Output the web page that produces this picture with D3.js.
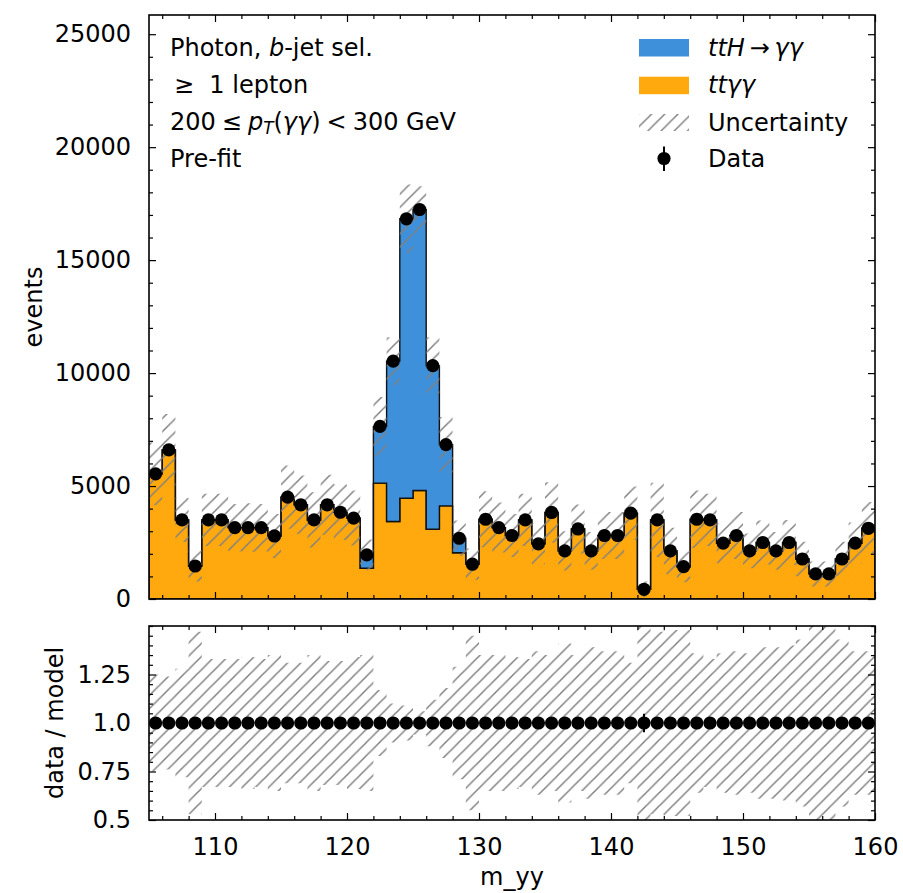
<!DOCTYPE html>
<html><head><meta charset="utf-8">
<script src="https://cdn.jsdelivr.net/npm/d3@7"></script>
<style>
body{margin:0;background:#fff}
svg{display:block}
text{font-family:"DejaVu Sans";fill:#000}
</style>
</head><body>
<svg id="c" width="903" height="893"></svg>
<script>
// ---- data (bins of 1 GeV from 105 to 160) ----
const binEdges = d3.range(105, 161, 1);
const dataCounts = [5540,6600,3500,1460,3500,3500,3160,3160,3160,2790,
  4510,4170,3500,4170,3840,3580,1950,7640,10530,16830,
  17240,10330,6830,2690,1540,3530,3160,2810,3500,2440,
  3830,2130,3100,2130,2810,2810,3800,430,3500,2130,
  1430,3530,3500,2470,2810,2130,2500,2130,2500,1770,
  1110,1110,1770,2470,3130];
const ttgg = [5540,6600,3500,1460,3500,3500,3160,3160,3160,2790,
  4510,4170,3500,4170,3840,3580,1360,5130,3430,4460,
  4800,3090,4120,2050,1540,3530,3160,2810,3500,2440,
  3830,2130,3100,2130,2810,2810,3800,430,3500,2130,
  1430,3530,3500,2470,2810,2130,2500,2130,2500,1770,
  1110,1110,1770,2470,3130];
const ttH = [0,0,0,0,0,0,0,0,0,0,
  0,0,0,0,0,0,590,2510,7100,12370,
  12440,7240,2710,640,0,0,0,0,0,0,
  0,0,0,0,0,0,0,0,0,0,
  0,0,0,0,0,0,0,0,0,0,
  0,0,0,0,0];
const relUnc = [0.25,0.24,0.28,0.47,0.33,0.33,0.33,0.34,0.33,0.35,
  0.31,0.31,0.35,0.32,0.32,0.34,0.35,0.17,0.10,0.09,
  0.06,0.12,0.18,0.29,0.45,0.35,0.35,0.34,0.33,0.37,
  0.35,0.41,0.35,0.39,0.37,0.37,0.31,0.80,0.47,0.48,
  0.48,0.36,0.33,0.36,0.37,0.36,0.39,0.39,0.40,0.43,
  0.50,0.50,0.43,0.37,0.37];
const xTicks = [110,120,130,140,150,160];
const xMinorTicks = d3.range(106, 161, 2);
const yTicksMain = [0,5000,10000,15000,20000,25000];
const yMinorMain = d3.range(0, 25001, 1000);
const yTicksRatio = [0.5,0.75,1.0,1.25];
const yTickLabelsRatio = ["0.5","0.75","1.0","1.25"];
const yMinorRatio = d3.range(0.5, 1.5001, 0.05);
const annotations = ["Photon, b-jet sel.", "≥ 1 lepton", "200 ≤ pT(γγ) < 300 GeV", "Pre-fit"];
const legendLabels = ["ttH → γγ", "ttγγ", "Uncertainty", "Data"];
const colors = {ttH: "#3f90da", ttgg: "#ffa90e", hatch: "#808080"};

// ---- layout ----
const L = 149, R = 875, mTop = 15, mBot = 599, rTop = 626, rBot = 820;
const FS = 24;
const svg = d3.select("#c");
const x = d3.scaleLinear([105,160],[L,R]);
const yM = d3.scaleLinear([0,25850],[mBot,mTop]);
const yR = d3.scaleLinear([0.5,1.5],[rBot,rTop]);

const defs = svg.append("defs");
const hp = 13.2;
defs.append("pattern").attr("id","hatch").attr("patternUnits","userSpaceOnUse")
  .attr("width",hp).attr("height",hp)
  .append("path")
  .attr("d",`M0,${hp} L${hp},0 M${-hp/4},${hp/4} L${hp/4},${-hp/4} M${hp*3/4},${hp*5/4} L${hp*5/4},${hp*3/4}`)
  .attr("stroke",colors.hatch).attr("stroke-width",1.5);
defs.append("clipPath").attr("id","clipM").append("rect").attr("x",L).attr("y",mTop).attr("width",R-L).attr("height",mBot-mTop);
defs.append("clipPath").attr("id","clipR").append("rect").attr("x",L).attr("y",rTop).attr("width",R-L).attr("height",rBot-rTop);

const n = dataCounts.length;
const total = ttgg.map((v,i)=>v+ttH[i]);
const pts = binEdges.map((e,i)=>({e, i: Math.min(i, n-1)}));
function stepArea(lo, hi, ys){
  return d3.area().x(d=>x(d.e)).y0(d=>ys(lo[d.i])).y1(d=>ys(hi[d.i])).curve(d3.curveStepAfter)(pts);
}
const zeros = total.map(()=>0);

// ---- main panel ----
const gM = svg.append("g").attr("clip-path","url(#clipM)");
gM.append("path").attr("d", stepArea(zeros, ttgg, yM)).attr("fill",colors.ttgg).attr("stroke","#111").attr("stroke-width",1.4);
gM.append("path").attr("d", stepArea(ttgg, total, yM)).attr("fill",colors.ttH).attr("stroke","#111").attr("stroke-width",1.4);
const uLo = total.map((t,i)=>t*(1-relUnc[i])), uHi = total.map((t,i)=>t*(1+relUnc[i]));
gM.append("path").attr("d", stepArea(uLo, uHi, yM)).attr("fill","url(#hatch)").attr("stroke","none");
const centers = dataCounts.map((d,i)=>(binEdges[i]+binEdges[i+1])/2);
gM.selectAll("line.err").data(dataCounts).join("line")
  .attr("x1",(d,i)=>x(centers[i])).attr("x2",(d,i)=>x(centers[i]))
  .attr("y1",d=>yM(d-Math.sqrt(d))).attr("y2",d=>yM(d+Math.sqrt(d)))
  .attr("stroke","#000").attr("stroke-width",2);
gM.selectAll("circle").data(dataCounts).join("circle")
  .attr("cx",(d,i)=>x(centers[i])).attr("cy",d=>yM(d)).attr("r",6.6).attr("fill","#000");

// ---- ratio panel ----
const gR = svg.append("g").attr("clip-path","url(#clipR)");
const rLo = relUnc.map(u=>1-u), rHi = relUnc.map(u=>1+u);
gR.append("path").attr("d", stepArea(rLo, rHi, yR)).attr("fill","url(#hatch)");
const ratio = dataCounts.map((d,i)=>d/total[i]);
gR.selectAll("line.err").data(ratio).join("line")
  .attr("x1",(d,i)=>x(centers[i])).attr("x2",(d,i)=>x(centers[i]))
  .attr("y1",(d,i)=>yR(d-Math.sqrt(dataCounts[i])/total[i])).attr("y2",(d,i)=>yR(d+Math.sqrt(dataCounts[i])/total[i]))
  .attr("stroke","#000").attr("stroke-width",2);
gR.selectAll("circle").data(ratio).join("circle")
  .attr("cx",(d,i)=>x(centers[i])).attr("cy",d=>yR(d)).attr("r",6.6).attr("fill","#000");

// ---- axes ----
function styleAxis(g){
  g.select(".domain").remove();
  g.selectAll(".tick line").attr("stroke","#000").attr("stroke-width",1.2);
  g.selectAll(".tick text").attr("font-size",FS).attr("font-family","DejaVu Sans").attr("fill","#000");
}
function ticksFor(top, bot, ys, majors, minors, labels, xLabels){
  const majSet = new Set(majors.map(v=>v.toFixed(4)));
  const minorsOnly = minors.filter(v=>!majSet.has(v.toFixed(4)));
  const xMinOnly = xMinorTicks.filter(v=>!xTicks.includes(v));
  svg.append("g").attr("transform",`translate(${L},0)`)
    .call(d3.axisLeft(ys).tickValues(majors).tickSize(-7).tickPadding(18).tickFormat((d,i)=>labels[i])).call(styleAxis);
  svg.append("g").attr("transform",`translate(${L},0)`)
    .call(d3.axisLeft(ys).tickValues(minorsOnly).tickSize(-4).tickFormat("")).call(styleAxis);
  svg.append("g").attr("transform",`translate(${R},0)`)
    .call(d3.axisRight(ys).tickValues(majors).tickSize(-7).tickFormat("")).call(styleAxis);
  svg.append("g").attr("transform",`translate(${R},0)`)
    .call(d3.axisRight(ys).tickValues(minorsOnly).tickSize(-4).tickFormat("")).call(styleAxis);
  svg.append("g").attr("transform",`translate(0,${top})`)
    .call(d3.axisTop(x).tickValues(xTicks).tickSize(-7).tickFormat("")).call(styleAxis);
  svg.append("g").attr("transform",`translate(0,${top})`)
    .call(d3.axisTop(x).tickValues(xMinOnly).tickSize(-4).tickFormat("")).call(styleAxis);
  svg.append("g").attr("transform",`translate(0,${bot})`)
    .call(d3.axisBottom(x).tickValues(xTicks).tickSize(-7).tickPadding(18).tickFormat(xLabels ? d3.format("d") : "")).call(styleAxis);
  svg.append("g").attr("transform",`translate(0,${bot})`)
    .call(d3.axisBottom(x).tickValues(xMinOnly).tickSize(-4).tickFormat("")).call(styleAxis);
  svg.append("rect").attr("x",L).attr("y",top).attr("width",R-L).attr("height",bot-top)
    .attr("fill","none").attr("stroke","#000").attr("stroke-width",1.6);
}
ticksFor(mTop, mBot, yM, yTicksMain, yMinorMain, yTicksMain.map(String), false);
ticksFor(rTop, rBot, yR, yTicksRatio, yMinorRatio, yTickLabelsRatio, true);

// ---- axis labels ----
svg.append("text").attr("transform",`translate(41.5,${(mTop+mBot)/2}) rotate(-90)`)
  .attr("text-anchor","middle").attr("font-size",FS).text("events");
svg.append("text").attr("transform",`translate(63,${(rTop+rBot)/2}) rotate(-90)`)
  .attr("text-anchor","middle").attr("font-size",FS).text("data / model");
svg.append("text").attr("x",(L+R)/2).attr("y",885).attr("text-anchor","middle").attr("font-size",FS).text("m_yy");

// ---- annotations ----
const ax = 170, aBase = [56, 93, 130, 166.5];
const t1 = svg.append("text").attr("x",ax).attr("y",aBase[0]).attr("font-size",FS);
t1.append("tspan").text("Photon, ");
t1.append("tspan").attr("font-style","italic").text("b");
t1.append("tspan").text("-jet sel.");
svg.append("text").attr("x",ax+4).attr("y",aBase[1]).attr("font-size",FS).attr("xml:space","preserve").text("≥  1 lepton");
const t3 = svg.append("text").attr("x",ax).attr("y",aBase[2]).attr("font-size",FS);
t3.append("tspan").text("200\u2005≤\u2005");
t3.append("tspan").attr("font-style","italic").text("p");
t3.append("tspan").attr("font-style","italic").attr("font-size",FS*0.7).attr("dy",4).text("T");
t3.append("tspan").attr("dy",-4).text("(");
t3.append("tspan").attr("font-style","italic").text("γγ");
t3.append("tspan").text(")\u2005<\u2005300 GeV");
svg.append("text").attr("x",ax).attr("y",aBase[3]).attr("font-size",FS).text(annotations[3]);

// ---- legend ----
const lx = 639, lw = 50, tx = 708;
svg.append("rect").attr("x",lx).attr("y",39).attr("width",lw).attr("height",17.5).attr("fill",colors.ttH);
svg.append("rect").attr("x",lx).attr("y",76.7).attr("width",lw).attr("height",17.5).attr("fill",colors.ttgg);
svg.append("rect").attr("x",lx).attr("y",114).attr("width",lw).attr("height",17).attr("fill","url(#hatch)");
svg.append("line").attr("x1",lx+lw/2).attr("x2",lx+lw/2).attr("y1",146.5).attr("y2",171).attr("stroke","#000").attr("stroke-width",2);
svg.append("circle").attr("cx",lx+lw/2).attr("cy",158.5).attr("r",6.6).attr("fill","#000");
const l1 = svg.append("text").attr("x",tx).attr("y",56).attr("font-size",FS);
l1.append("tspan").attr("font-style","italic").text("ttH");
l1.append("tspan").text("\u2009→\u2009");
l1.append("tspan").attr("font-style","italic").text("γγ");
svg.append("text").attr("x",tx).attr("y",93).attr("font-size",FS).attr("font-style","italic").text(legendLabels[1]);
svg.append("text").attr("x",tx).attr("y",131).attr("font-size",FS).text(legendLabels[2]);
svg.append("text").attr("x",tx).attr("y",167).attr("font-size",FS).text(legendLabels[3]);
</script>
</body></html>
